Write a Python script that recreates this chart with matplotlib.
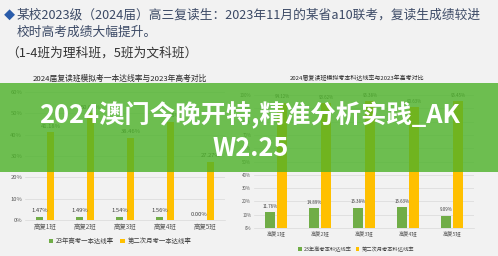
import matplotlib
matplotlib.use("Agg")
import numpy as np
from matplotlib import pyplot as plt
from matplotlib.patches import Rectangle

plt.rcParams["font.family"] = ["Noto Sans CJK SC", "DejaVu Sans"]

W, H = 498, 256

classes = ["高复1班", "高复2班", "高复3班", "高复4班", "高复5班"]
yiben_2023 = [1.47, 1.49, 1.54, 1.56, 0.00]
yiben_month2 = [41.18, 50.00, 38.46, 46.15, 27.27]
benke_2023 = [11.76, 14.89, 15.38, 15.63, 9.09]
benke_month2 = [94.12, 93.62, 95.38, 90.63, 95.45]

left_title = "2024届复读班模拟考一本达线率与2023年高考对比"
right_title = "2024届复读班模拟考本科达线率与2023年高考对比"
left_legend = ["23年高考一本达线率", "第二次月考一本达线率"]
right_legend = ["23年高考本科达线率", "第二次月考本科达线率"]

header_1 = "某校2023级（2024届）高三复读生：2023年11月的某省a10联考，复读生成绩较进"
header_2 = "校时高考成绩大幅提升。"
header_3 = "（1-4班为理科班，5班为文科班）"
overlay_1 = "2024澳门今晚开特,精准分析实践_AK"
overlay_2 = "W2.25"

GREEN = "#70ad47"
YELLOW = "#ffc000"
BG = "#f2f2f2"


def box(x0, y0, x1, y1):
    # pixel box (from top-left) -> figure fraction rect
    return [x0 / W, 1 - y1 / H, (x1 - x0) / W, (y1 - y0) / H]


def fx(x):
    return x / W


def fy(y):
    return 1 - y / H


fig = plt.figure(figsize=(W / 100, H / 100), dpi=100, facecolor=BG)

# header text
fig.text(fx(4), fy(15), "◆", color="#2a5caa", fontsize=8, va="center", ha="left")
fig.text(fx(17), fy(15), header_1, color="#3c4a66", fontsize=9.15, va="center", ha="left")
fig.text(fx(17), fy(32), header_2, color="#3c4a66", fontsize=9.15, va="center", ha="left")
fig.text(fx(6), fy(53), header_3, color="#333333", fontsize=9.15, va="center", ha="left")


def draw_chart(ax, low, high, ymax, step, legend, lab_fs, w, off):
    x = np.arange(len(classes))
    b1 = ax.bar(x - off, low, w, color=GREEN, zorder=3, label=legend[0])
    b2 = ax.bar(x + off, high, w, color=YELLOW, zorder=3, label=legend[1])
    for bars, vals in ((b1, low), (b2, high)):
        for r, v in zip(bars, vals):
            ax.annotate(f"{v:.2f}%", (r.get_x() + r.get_width() / 2, v),
                        xytext=(0, 2.5), textcoords="offset points",
                        ha="center", va="bottom", fontsize=lab_fs, color="#404040")
    ticks = np.arange(0, ymax + 0.1, step)
    ax.set_xlim(-0.5, len(classes) - 0.5)
    ax.set_ylim(0, ymax)
    ax.set_yticks(ticks)
    ax.set_yticklabels([f"{int(t)}%" for t in ticks])
    ax.set_xticks(x)
    ax.set_xticklabels(classes)
    ax.grid(axis="y", color="#d9d9d9", linewidth=0.5, zorder=0)
    ax.set_facecolor("none")
    for s in ax.spines.values():
        s.set_visible(False)
    ax.spines["bottom"].set_visible(True)
    ax.spines["bottom"].set_color("#d9d9d9")
    ax.spines["bottom"].set_linewidth(0.5)
    ax.tick_params(length=0, colors="#595959", pad=2)
    return b1, b2


axl = fig.add_axes(box(25, 92, 225, 220))
bl = draw_chart(axl, yiben_2023, yiben_month2, 60, 10, left_legend, 4.2, 0.19, 0.14)
axl.tick_params(axis="y", labelsize=4.2)
axl.tick_params(axis="x", labelsize=4.6)
fig.text(fx(120), fy(79), left_title, fontsize=5.6, color="#262626", ha="center", va="center")
fig.legend(bl, left_legend, loc="center", bbox_to_anchor=(fx(120), fy(241)), ncol=2,
           frameon=False, fontsize=4.6, handlelength=0.7, handleheight=0.7,
           handletextpad=0.4, columnspacing=1.0, labelcolor="#404040")

axr = fig.add_axes(box(254, 95, 474, 228))
br = draw_chart(axr, benke_2023, benke_month2, 100, 10, right_legend, 3.2, 0.22, 0.14)
axr.tick_params(axis="y", labelsize=3.2)
axr.tick_params(axis="x", labelsize=3.8)
fig.text(fx(357), fy(78), right_title, fontsize=4.3, color="#262626", ha="center", va="center")
fig.legend(br, right_legend, loc="center", bbox_to_anchor=(fx(356), fy(249)), ncol=2,
           frameon=False, fontsize=3.8, handlelength=0.7, handleheight=0.7,
           handletextpad=0.4, columnspacing=0.8, labelcolor="#404040")

# green banner with title on top
fig.patches.append(Rectangle((0, fy(172)), 1, (172 - 83) / H, transform=fig.transFigure,
                             facecolor="#4cb228", alpha=0.8, edgecolor="none", zorder=10))
fig.text(fx(250), fy(115), overlay_1, color="white", fontsize=18.3, fontweight="bold",
         ha="center", va="center", zorder=11)
fig.text(fx(251), fy(148), overlay_2, color="white", fontsize=18.3, fontweight="bold",
         ha="center", va="center", zorder=11)

fig.savefig("out.png", dpi=100, facecolor=BG)
